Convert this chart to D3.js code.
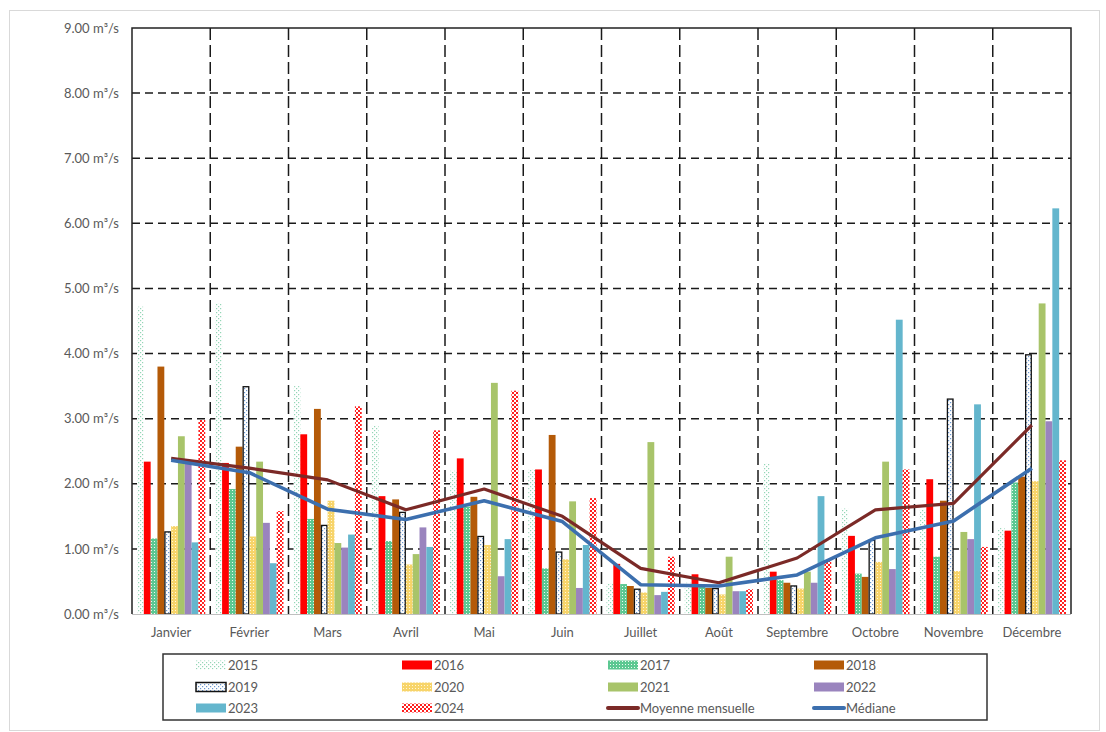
<!DOCTYPE html>
<html lang="fr">
<head>
<meta charset="utf-8">
<script src="https://cdn.jsdelivr.net/npm/d3@7"></script>
<style>
  html, body { margin: 0; padding: 0; background: #fff; }
  svg { display: block; font-family: Lato, "Open Sans", sans-serif; }
</style>
</head>
<body>
<svg id="chart" width="1106" height="732"></svg>
<script>
// Débits mensuels (m³/s) par année
const months = ["Janvier", "Février", "Mars", "Avril", "Mai", "Juin", "Juillet", "Août", "Septembre", "Octobre", "Novembre", "Décembre"];
const years = ["2015", "2016", "2017", "2018", "2019", "2020", "2021", "2022", "2023", "2024"];

const v2015 = [4.72, 4.77, 3.50, 2.89, 2.20, 2.22, 0.47, 0.48, 2.31, 1.62, 1.60, 1.32];
const v2016 = [2.34, 2.32, 2.76, 1.81, 2.39, 2.22, 0.77, 0.61, 0.65, 1.20, 2.07, 1.28];
const v2017 = [1.16, 1.92, 1.46, 1.12, 1.65, 0.70, 0.46, 0.45, 0.52, 0.62, 0.88, 2.02];
const v2018 = [3.80, 2.57, 3.15, 1.76, 1.80, 2.75, 0.43, 0.40, 0.48, 0.57, 1.74, 2.11];
const v2019 = [1.27, 3.50, 1.37, 1.57, 1.20, 0.96, 0.39, 0.40, 0.44, 1.14, 3.31, 3.99];
const v2020 = [1.35, 1.19, 1.74, 0.76, 1.06, 0.84, 0.33, 0.30, 0.39, 0.80, 0.66, 2.04];
const v2021 = [2.73, 2.34, 1.09, 0.92, 3.55, 1.73, 2.64, 0.88, 0.65, 2.34, 1.26, 4.77];
const v2022 = [2.33, 1.40, 1.02, 1.33, 0.58, 0.40, 0.29, 0.35, 0.48, 0.69, 1.15, 2.96];
const v2023 = [1.10, 0.78, 1.22, 1.03, 1.15, 1.06, 0.34, 0.35, 1.81, 4.52, 3.22, 6.23];
const v2024 = [2.98, 1.58, 3.19, 2.82, 3.43, 1.78, 0.88, 0.38, 0.82, 2.22, 1.03, 2.36];

const moyenne = [2.39, 2.24, 2.06, 1.60, 1.92, 1.50, 0.70, 0.48, 0.86, 1.60, 1.70, 2.90];
const mediane = [2.36, 2.17, 1.61, 1.45, 1.74, 1.42, 0.45, 0.43, 0.60, 1.17, 1.43, 2.24];

const yTicks = [0, 1, 2, 3, 4, 5, 6, 7, 8, 9];

const seriesValues = [v2015, v2016, v2017, v2018, v2019, v2020, v2021, v2022, v2023, v2024];

// Remplissage de chaque année (couleur unie ou motif)
const fills = {
  "2015": "url(#p2015)", "2016": "#ff0000", "2017": "url(#p2017)", "2018": "#b45a08",
  "2019": "url(#p2019)", "2020": "url(#p2020)", "2021": "#a8c46a", "2022": "#9a84be",
  "2023": "#64b6cd", "2024": "url(#p2024)"
};
const colMoyenne = "#7b2a27";
const colMediane = "#3c6fae";

const svg = d3.select("#chart");
const plot = { left: 132, top: 28, right: 1071, bottom: 614 };

// Cadre extérieur
svg.append("rect").attr("x", 9.5).attr("y", 10.5).attr("width", 1090).attr("height", 720)
  .attr("fill", "#fff").attr("stroke", "#d9d9d9").attr("stroke-width", 1);

// Motifs
const defs = svg.append("defs");
function pat(id, size, bg, dots, dotColor, dotSize) {
  const p = defs.append("pattern").attr("id", id).attr("patternUnits", "userSpaceOnUse")
    .attr("width", size).attr("height", size);
  p.append("rect").attr("width", size).attr("height", size).attr("fill", bg);
  dots.forEach(([dx, dy]) => p.append("rect").attr("x", dx).attr("y", dy)
    .attr("width", dotSize).attr("height", dotSize).attr("fill", dotColor));
}
pat("p2015", 4, "#ffffff", [[0, 0], [2, 2]], "#93d6b6", 1.2);
pat("p2017", 3, "#5cc892", [[1, 1]], "#eefaf3", 1);
pat("p2019", 4, "#ffffff", [[0, 0], [2, 2]], "#6b97cf", 1.2);
pat("p2020", 3, "#f7d46a", [[1, 1]], "#fff6d8", 1);
pat("p2024", 4, "#ffffff", [[0, 0], [2, 2]], "#ff1f1f", 2);

// Échelles
const x0 = d3.scaleBand().domain(months).range([plot.left, plot.right]).padding(0);
const bw = x0.bandwidth();
const inner = bw * 0.064;
const x1 = d3.scaleBand().domain(years).range([inner, bw - inner]).padding(0);
const y = d3.scaleLinear().domain([0, 9]).range([plot.bottom, plot.top]);

// Quadrillage horizontal en tirets
svg.append("g").selectAll("line").data(yTicks.filter(t => t > 0 && t < 9)).join("line")
  .attr("x1", plot.left).attr("x2", plot.right)
  .attr("y1", d => y(d)).attr("y2", d => y(d))
  .attr("stroke", "#1a1a1a").attr("stroke-width", 1.5).attr("stroke-dasharray", "8,5");

// Séparateurs verticaux entre les mois
svg.append("g").selectAll("line").data(months.slice(1)).join("line")
  .attr("x1", d => x0(d)).attr("x2", d => x0(d))
  .attr("y1", plot.top).attr("y2", plot.bottom)
  .attr("stroke", "#1a1a1a").attr("stroke-width", 1.5).attr("stroke-dasharray", "12,5");

// Barres
const bars = svg.append("g");
months.forEach((m, i) => {
  years.forEach((yr, k) => {
    const v = seriesValues[k][i];
    const r = bars.append("rect")
      .attr("x", x0(m) + x1(yr))
      .attr("y", y(v))
      .attr("width", x1.bandwidth())
      .attr("height", y(0) - y(v))
      .attr("fill", fills[yr]);
    if (yr === "2019") {
      r.attr("x", x0(m) + x1(yr) + 0.6).attr("width", x1.bandwidth() - 1.2)
        .attr("y", y(v) + 0.6).attr("height", y(0) - y(v) - 0.6)
        .attr("stroke", "#111").attr("stroke-width", 1.3);
    }
  });
});

// Courbes moyenne et médiane
const line = d3.line().x((d, i) => x0(months[i]) + bw / 2).y(d => y(d));
svg.append("path").datum(moyenne).attr("d", line)
  .attr("fill", "none").attr("stroke", colMoyenne).attr("stroke-width", 3.2).attr("stroke-linejoin", "round");
svg.append("path").datum(mediane).attr("d", line)
  .attr("fill", "none").attr("stroke", colMediane).attr("stroke-width", 3.6).attr("stroke-linejoin", "round");

// Axe des abscisses
svg.append("line").attr("x1", plot.left).attr("x2", plot.right)
  .attr("y1", plot.bottom + 0.5).attr("y2", plot.bottom + 0.5)
  .attr("stroke", "#bfbfbf").attr("stroke-width", 1);

// Bordure du graphique
svg.append("path")
  .attr("d", `M${plot.left},${plot.bottom}V${plot.top}H${plot.right}V${plot.bottom}`)
  .attr("fill", "none").attr("stroke", "#222").attr("stroke-width", 1.5);

// Étiquettes de l'axe des ordonnées
const yAxis = d3.axisLeft(y).tickValues(yTicks).tickSize(0).tickPadding(13)
  .tickFormat(d => d3.format(".2f")(d) + " m³/s");
const gy = svg.append("g").attr("transform", `translate(${plot.left},0)`).call(yAxis);
gy.select(".domain").remove();
gy.selectAll("text").attr("fill", "#595959").attr("font-size", 13)
  .attr("font-family", "Lato, 'Open Sans', sans-serif");

// Étiquettes des mois
const xAxis = d3.axisBottom(x0).tickSize(0).tickPadding(14);
const gx = svg.append("g").attr("transform", `translate(0,${plot.bottom})`).call(xAxis);
gx.select(".domain").remove();
gx.selectAll("text").attr("fill", "#595959").attr("font-size", 13)
  .attr("font-family", "Lato, 'Open Sans', sans-serif");

// Légende
const legendItems = years.map((yr) => ({ label: yr, type: "bar", fill: fills[yr] }))
  .concat([
    { label: "Moyenne mensuelle", type: "line", fill: colMoyenne },
    { label: "Médiane", type: "line", fill: colMediane }
  ]);
svg.append("rect").attr("x", 163).attr("y", 654).attr("width", 824).attr("height", 66)
  .attr("fill", "#fff").attr("stroke", "#333").attr("stroke-width", 1.5);
const colX = [196, 402, 608, 814];
const rowY = [665, 687, 708];
const lg = svg.append("g");
legendItems.forEach((it, i) => {
  const cx = colX[i % 4], cy = rowY[Math.floor(i / 4)];
  if (it.type === "bar") {
    const r = lg.append("rect").attr("x", cx).attr("y", cy - 4.5).attr("width", 30).attr("height", 9)
      .attr("fill", it.fill);
    if (it.label === "2019") r.attr("stroke", "#111").attr("stroke-width", 1.5);
  } else {
    lg.append("line").attr("x1", cx).attr("x2", cx + 30).attr("y1", cy).attr("y2", cy)
      .attr("stroke", it.fill).attr("stroke-width", 4).attr("stroke-linecap", "round");
  }
  lg.append("text").attr("x", cx + 32).attr("y", cy).attr("dy", "0.35em")
    .attr("font-size", 13).attr("fill", "#595959").text(it.label);
});
</script>
</body>
</html>
